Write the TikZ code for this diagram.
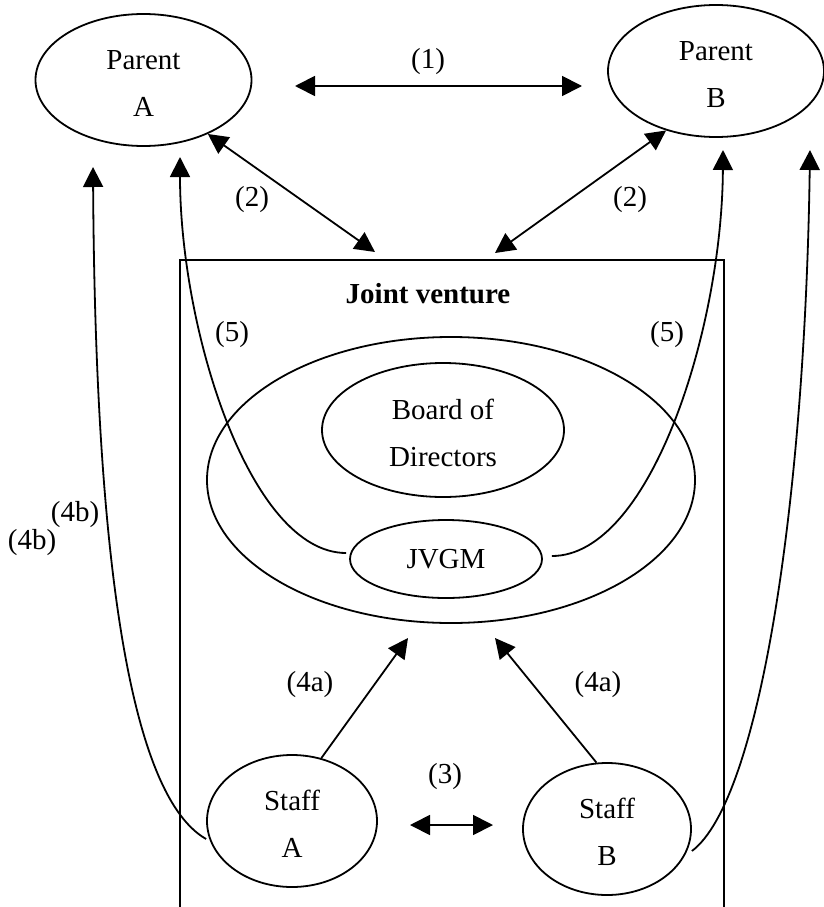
\documentclass[tikz,border=0pt]{standalone}
\usepackage{fontspec}
\setmainfont{Liberation Serif}
\usetikzlibrary{shapes.geometric,arrows.meta}
\begin{document}
\begin{tikzpicture}[x=1pt,y=-1pt,
  >={Triangle[length=20pt,width=20pt]},
  every node/.style={font=\fontsize{29}{47}\selectfont, inner sep=0pt},
  oval/.style={draw, ellipse, line width=1.8pt, align=center},
  twoline/.style={text height=72pt, text depth=0pt},
  link/.style={line width=1.8pt}
]
\useasboundingbox (0,0) rectangle (824,907);

% parents
\node[oval, twoline, minimum width=216pt, minimum height=132pt] (pa) at (143.5,80) {Parent\\A};
\node[oval, twoline, minimum width=216pt, minimum height=132pt] (pb) at (716,71) {Parent\\B};

% joint venture frame (open at the bottom)
\draw[line width=1.5pt] (180,907) |- (724,260) -- (724,907);
\node[font=\fontsize{29}{47}\selectfont\bfseries] (jvt) at (428,294) {Joint venture};

% governance bodies
\node[oval, minimum width=488pt, minimum height=286pt] (gov) at (451,480) {};
\node[oval, twoline, minimum width=242pt, minimum height=134pt] (bod) at (443,430) {Board of\\Directors};
\node[oval, minimum width=192pt, minimum height=78pt] (gm) at (446,559) {JVGM};

% staff
\node[oval, twoline, minimum width=170pt, minimum height=132pt] (sa) at (292,821) {Staff\\A};
\node[oval, twoline, minimum width=168pt, minimum height=132pt] (sb) at (607,829) {Staff\\B};

% free arrow ends
\coordinate (c1a) at (295,86);
\coordinate (c1b) at (582,86);
\coordinate (c2a) at (375,252);
\coordinate (c2b) at (495,253);
\coordinate (c3a) at (410,825);
\coordinate (c3b) at (493,825);
\coordinate (c4a) at (408,638);
\coordinate (c4b) at (495,638);
\coordinate (c5a) at (180,157);
\coordinate (c5b) at (723,150);
\coordinate (c6a) at (93,167);
\coordinate (c6b) at (810,150);

% (1) parent to parent
\draw[link,<->] (c1a) -- (c1b);
\node (l1) at (428,62) {(1)};

% (2) parents to the joint venture
\draw[link,<->] (pa.-40) -- (c2a);
\draw[link,<->] (pb.230) -- (c2b);
\node (l2a) at (252,200) {(2)};
\node (l2b) at (630,200) {(2)};

% (3) staff to staff
\draw[link,<->] (c3a) -- (c3b);
\node (l3) at (445,777) {(3)};

% (4a) staff to governance
\draw[link,->] (sa.65) -- (c4a);
\draw[link,->] (sb.99) -- (c4b);
\node (l4a) at (310,685) {(4a)};
\node (l4b) at (598,685) {(4a)};

% (4b) staff to parents
\draw[link,->] ([yshift=-18pt]sa.west) .. controls (120,790) and (95,500) .. (c6a);
\draw[link,->] ([yshift=-22pt]sb.east) .. controls (760,800) and (805,500) .. (c6b);
\node (l4c) at (75,515) {(4b)};
\node (l4d) at (32,543) {(4b)};

% (5) general manager to parents
\draw[link,->] ([xshift=-3pt,yshift=6pt]gm.west) .. controls (250,553) and (180,330) .. (c5a);
\draw[link,->] ([xshift=9pt,yshift=3pt]gm.east) .. controls (650,556) and (722,330) .. (c5b);
\node (l5a) at (232,335) {(5)};
\node (l5b) at (667,335) {(5)};
\end{tikzpicture}
\end{document}
